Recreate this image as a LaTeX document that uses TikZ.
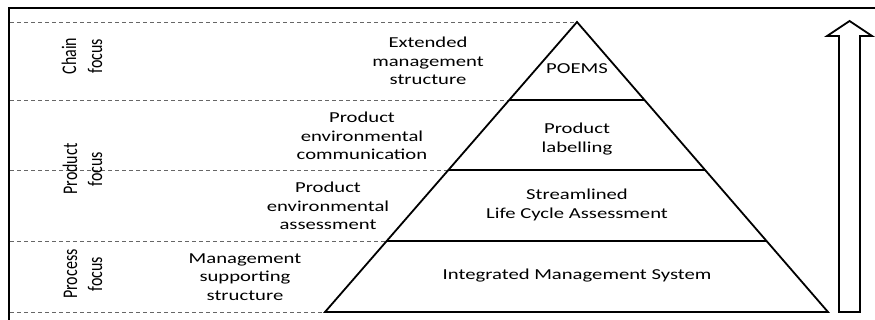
\documentclass[tikz,border=0pt]{standalone}
\usepackage{fontspec}
\usepackage{graphicx}
\newfontfamily\calfont{Carlito}
\newcommand{\vword}[1]{\scalebox{1}[1.3]{#1}}
\tikzset{
  txt/.style={font=\calfont\fontsize{15.2}{18.6}\selectfont, align=center, inner sep=0pt, xscale=1.36},
  vtxt/.style={font=\calfont\fontsize{16}{19}\selectfont, inner sep=0pt, rotate=90, anchor=mid},
  guide/.style={draw=black!60, dash pattern=on 4pt off 3pt, line width=0.8pt},
  pyr/.style={draw=black, line width=1.8pt, line join=miter},
  frame/.style={draw=black, line width=2.4pt},
  bigarrow/.style={draw=black, line width=1.8pt, fill=white, line join=miter}
}
\begin{document}
\begin{tikzpicture}[x=1pt,y=-1pt]
\useasboundingbox (0,0) rectangle (875,320);
% frame
\draw[frame] (9,320) -- (9,8) -- (875,8);
% pyramid points
\coordinate (apex) at (577,22);
\coordinate (bl) at (325,312);
\coordinate (br) at (828,312);
\coordinate (l1) at (509.4,100);
\coordinate (r1) at (644.6,100);
\coordinate (l2) at (448.6,170);
\coordinate (r2) at (705.4,170);
\coordinate (l3) at (387,241);
\coordinate (r3) at (767,241);
% left ends of guide lines
\coordinate (g0) at (10,22);
\coordinate (g1) at (10,100);
\coordinate (g2) at (10,170);
\coordinate (g3) at (10,241);
\coordinate (g4) at (10,312);
% dashed guides
\draw[guide] (g0) -- (apex);
\draw[guide] (g1) -- (l1);
\draw[guide] (g2) -- (l2);
\draw[guide] (g3) -- (l3);
\draw[guide] (g4) -- (bl);
% pyramid
\draw[pyr] (apex) -- (br) -- (bl) -- cycle;
\draw[pyr] (l1) -- (r1);
\draw[pyr] (l2) -- (r2);
\draw[pyr] (l3) -- (r3);
% arrow
\draw[bigarrow] (839,312) -- (839,36) -- (827,36) -- (849.5,21) -- (872,36) -- (860,36) -- (860,312) -- cycle;
% pyramid texts
\node[txt] (poems) at (577,69) {POEMS};
\node[txt] (label) at (577,139) {Product\\labelling};
\node[txt] (slca) at (577,205) {Streamlined\\Life Cycle Assessment};
\node[txt] (ims) at (577,276) {Integrated Management System};
% left texts
\node[txt] (ext) at (428,61) {Extended\\management\\structure};
\node[txt] (pec) at (362,136) {Product\\environmental\\communication};
\node[txt] (pea) at (328,206) {Product\\environmental\\assessment};
\node[txt] (mss) at (245,277) {Management\\supporting\\structure};
% rotated focus labels (one node per line)
\node[vtxt] (chainA) at (74,56) {\vword{Chain}};
\node[vtxt] (chainB) at (100,56) {\vword{focus}};
\node[vtxt] (productA) at (75,169) {\vword{Product}};
\node[vtxt] (productB) at (100,169) {\vword{focus}};
\node[vtxt] (processA) at (75,274) {\vword{Process}};
\node[vtxt] (processB) at (100,274) {\vword{focus}};
\end{tikzpicture}
\end{document}
